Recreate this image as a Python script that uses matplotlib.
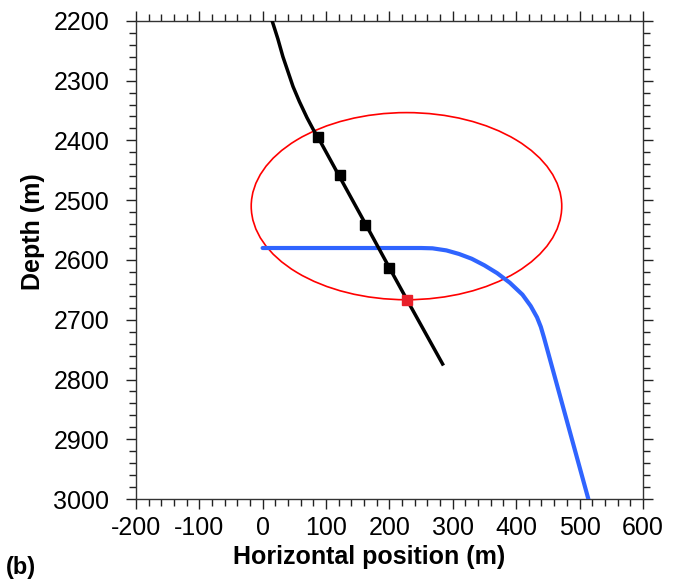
import numpy as np
import matplotlib.pyplot as plt
from matplotlib.patches import Ellipse
from matplotlib.ticker import MultipleLocator

plt.rcParams['font.family'] = ['Liberation Sans', 'DejaVu Sans']
plt.rcParams['axes.unicode_minus'] = False

# well trajectory (black)
well_x = [15, 24, 32, 40, 48, 58, 70, 80, 87, 120, 163, 200, 228, 284]
well_z = [2200, 2230, 2260, 2285, 2310, 2335, 2362, 2382, 2394, 2458, 2541, 2613, 2667, 2774]

# survey stations on the well
station_x = [87, 122, 161, 199]
station_z = [2394, 2458, 2541, 2613]
hit_x = [228]
hit_z = [2667]

# relief / target trajectory (blue)
relief_x = [0, 250, 268, 290, 310, 330, 350, 370, 390, 410, 423, 433, 439, 444, 514]
relief_z = [2580, 2580, 2580.5, 2584, 2590, 2598, 2609, 2622, 2638, 2658, 2677, 2696, 2712, 2730, 3000]

# uncertainty ellipse
ell_center = (227, 2510)
ell_width = 490
ell_height = 313

fig = plt.figure(figsize=(6.76, 5.79), dpi=100)
ax = fig.add_axes([0.201, 0.138, 0.750, 0.826])

ax.add_patch(Ellipse(ell_center, ell_width, ell_height, fill=False,
                     edgecolor='#ff0000', linewidth=1.2, zorder=2))
ax.plot(relief_x, relief_z, color='#2f64ff', linewidth=3, solid_capstyle='round', zorder=3)
ax.plot(well_x, well_z, color='black', linewidth=2.5, zorder=4)
ax.plot(station_x, station_z, 's', color='black', markersize=7, zorder=5)
ax.plot(hit_x, hit_z, 's', color='#e8202a', markersize=7, zorder=5)

ax.set_xlim(-200, 600)
ax.set_ylim(3000, 2200)
ax.xaxis.set_major_locator(MultipleLocator(100))
ax.xaxis.set_minor_locator(MultipleLocator(20))
ax.yaxis.set_major_locator(MultipleLocator(100))
ax.yaxis.set_minor_locator(MultipleLocator(20))

ax.tick_params(which='both', direction='out', top=True, right=True,
               labeltop=False, labelright=False, color='#222222', width=1)
ax.tick_params(which='major', length=7, labelsize=18)
ax.tick_params(which='minor', length=5)
ax.tick_params(axis='x', which='major', pad=5)
ax.tick_params(axis='y', which='major', pad=12)
for sp in ax.spines.values():
    sp.set_color('#333333')
    sp.set_linewidth(1)

ax.set_xlabel('Horizontal position (m)', fontsize=18, fontweight='bold')
ax.xaxis.set_label_coords(0.46, -0.096)
ax.set_ylabel('Depth (m)', fontsize=18, fontweight='bold')
ax.yaxis.set_label_coords(-0.18, 0.559)

fig.text(0.008, 0.0, '(b)', fontsize=17, fontweight='bold', va='bottom')

fig.savefig('out.png', dpi=100)
